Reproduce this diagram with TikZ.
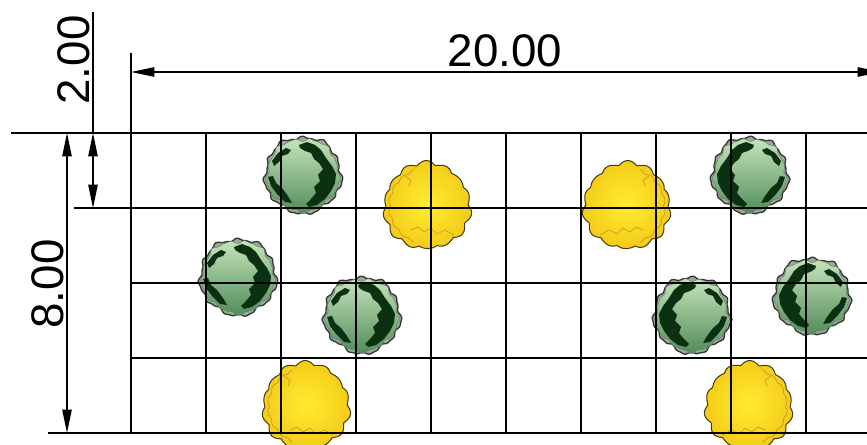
\documentclass[tikz,border=0pt]{standalone}
\usepackage{fontspec}
\setmainfont{Liberation Sans}
\usetikzlibrary{arrows.meta}

% plant symbol colours
\definecolor{shrubrim}{RGB}{150,172,150}
\definecolor{shrubedge}{RGB}{50,58,50}
\definecolor{shrubhi}{RGB}{196,228,184}
\definecolor{shrubmid}{RGB}{160,204,152}
\definecolor{shrublo}{RGB}{82,140,92}
\definecolor{shrubdark}{RGB}{12,48,18}
\definecolor{sunhi}{RGB}{255,236,50}
\definecolor{sunlo}{RGB}{244,204,24}
\definecolor{sunedge}{RGB}{70,56,24}
\definecolor{sunvein}{RGB}{196,150,40}

\tikzset{
  cadline/.style={line width=0.42mm, draw=black},
  dimarrow/.style={cadline, {Triangle[length=7mm,width=2.8mm]}-{Triangle[length=7mm,width=2.8mm]}},
  dimtext/.style={font=\fontsize{39}{40}\selectfont, inner sep=0pt},
  % round shrub with dark foliage patches
  greentree/.pic={
    \path[fill=shrubrim, draw=shrubedge, line width=0.4mm, line join=round]
      plot[domain=0:358, samples=180]
      (\x:{38+1.3*sin(11*\x)+0.6*sin(23*\x+40)+1.0*sin(5*\x+10)}) -- cycle;
    \shade[top color=shrubhi, middle color=shrubmid, bottom color=shrublo,
           draw=shrubedge!70, line width=0.15mm, line join=round]
      plot[domain=0:358, samples=180]
      (\x:{36+1.0*sin(13*\x+15)+0.5*sin(21*\x)+1.0*sin(5*\x+10)}) -- cycle;
    \fill[shrubdark] (-4,-30) -- (4,-33) -- (12,-30) -- (18,-25) -- (23,-17)
      -- (29,-9) -- (33,-1) -- (32,8) -- (28,16) -- (22,24) -- (14,30) -- (6,32)
      -- (3,29) -- (8,24) -- (13,18) -- (11,12) -- (17,6) -- (15,0) -- (20,-6)
      -- (16,-12) -- (11,-16) -- (8,-22) -- (2,-24) -- (-3,-27) -- cycle;
    \fill[shrubdark] (-31,-14) -- (-25,-22) -- (-17,-27) -- (-12,-25) -- (-15,-21)
      -- (-21,-19) -- (-24,-13) -- (-29,-9) -- cycle;
    \fill[shrubdark] (-35,2) -- (-30,1) -- (-27,8) -- (-21,13) -- (-15,21)
      -- (-11,28) -- (-18,27) -- (-26,19) -- (-32,11) -- cycle;
  },
  % scalloped yellow canopy
  yellowtree/.pic={
    \shade[inner color=sunhi, outer color=sunlo, draw=sunedge,
           line width=0.3mm, line join=round]
      plot[domain=0:359, samples=360]
      (\x:{41+3.0*abs(sin(7*\x+10))+0.9*sin(3*\x+20)+0.6*sin(11*\x)}) -- cycle;
    \draw[sunvein, line width=0.2mm]
      plot[domain=110:250, samples=71] (\x:{36.5+2*abs(sin(9*\x))});
    \draw[sunvein, line width=0.2mm] (-16,24) -- (-9,21) -- (-3,26) -- (4,22)
      -- (10,28) -- (18,24) -- (27,29);
    \draw[sunvein, line width=0.2mm] (-22,-30) -- (-16,-26) -- (-18,-20);
  },
}

\begin{document}
\begin{tikzpicture}[x=0.3mm, y=-0.3mm]
  \useasboundingbox (0,0) rectangle (867,445);
  \clip (0,0) rectangle (867,445);
  \fill[white] (0,0) rectangle (867,445);

  % planting
  \pic (y1) at (427,206) {yellowtree};
  \pic[xscale=-1] (y2) at (627,206) {yellowtree};
  \pic (y3) at (306,406) {yellowtree};
  \pic[xscale=-1] (y4) at (749,406) {yellowtree};

  \pic (g1) at (303,175) {greentree};
  \pic (g2) at (238,277) {greentree};
  \pic (g3) at (362,315) {greentree};
  \pic[xscale=-1] (g4) at (750,175) {greentree};
  \pic[xscale=-1] (g5) at (692,315) {greentree};
  \pic[xscale=-1] (g6) at (812,296) {greentree};

  % 2.00 x 2.00 grid
  \foreach \i in {0,...,10}
    \draw[cadline] (131+75*\i,133) -- (131+75*\i,433);
  \draw[cadline] (11,133) -- (881,133);
  \draw[cadline] (74,208) -- (881,208);
  \draw[cadline] (131,283) -- (881,283);
  \draw[cadline] (131,358) -- (881,358);
  \draw[cadline] (48,433) -- (881,433);

  % dimension points
  \coordinate (ext20) at (131,53);
  \coordinate (gridtl) at (131,133);
  \coordinate (d20a) at (131,72);
  \coordinate (d20b) at (881,72);
  \coordinate (d2top) at (93,12);
  \coordinate (d2a) at (93,133);
  \coordinate (d2b) at (93,208);
  \coordinate (d8a) at (67,133);
  \coordinate (d8b) at (67,433);

  \draw[cadline] (ext20) -- (gridtl);
  \draw[dimarrow] (d20a) -- (d20b);
  \draw[cadline] (d2top) -- (d2a);
  \draw[dimarrow] (d2a) -- (d2b);
  \draw[dimarrow] (d8a) -- (d8b);

  \node[dimtext, anchor=base] (t20) at (505,67) {20.00};
  \node[dimtext, anchor=base, rotate=90] (t2) at (89,60) {2.00};
  \node[dimtext, anchor=base, rotate=90] (t8) at (63,284) {8.00};
\end{tikzpicture}
\end{document}
